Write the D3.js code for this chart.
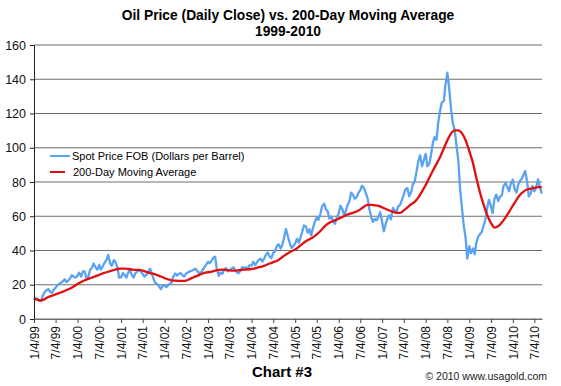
<!DOCTYPE html>
<html>
<head>
<meta charset="utf-8">
<script src="https://cdn.jsdelivr.net/npm/d3@7"></script>
<style>
  body { margin: 0; background: #fff; }
  svg text { font-family: "Liberation Sans", Arial, sans-serif; }
</style>
</head>
<body>
<div id="chart"></div>
<script>
// Oil price (daily close) vs 200-day moving average, 1999-2010
// spot values: two readings per month (4th and 18th)
const spot1999 = [11.4,12.2, 11.6,10.6, 10.4,13.5, 15.8,16.8, 17.4,16.0, 15.2,17.0, 18.2,19.6, 20.4,21.2, 22.0,23.2, 21.6,22.4, 23.8,25.6, 24.6,24.2];
const spot2000 = [25.2,27.0, 24.8,27.8, 27.8,24.2, 24.6,28.6, 29.8,32.4, 30.2,28.8, 31.6,28.8, 30.8,32.8, 34.6,37.4, 32.4,31.0, 34.4,33.2, 30.2,24.2];
const spot2001 = [24.4,26.8, 25.6,24.2, 27.2,28.4, 25.8,24.2, 26.8,27.6, 28.6,27.8, 26.2,24.8, 25.8,27.2, 29.4,26.8, 23.2,21.0, 20.4,19.0, 17.4,19.6];
const spot2002 = [19.4,18.6, 19.8,20.6, 21.4,24.8, 26.6,25.4, 26.4,26.8, 25.6,24.8, 26.6,27.2, 27.8,28.2, 28.8,29.4, 28.2,26.8, 27.2,28.4, 30.4,31.6];
const spot2003 = [33.4,32.6, 34.2,35.8, 36.4,29.2, 25.2,27.2, 26.4,28.8, 29.8,27.8, 28.6,29.2, 30.2,28.7, 27.2,26.8, 28.6,30.4, 29.6,30.2, 29.6,31.4];
const spot2004 = [31.2,33.4, 31.4,33.2, 34.6,35.2, 33.6,35.2, 37.6,38.8, 36.4,35.6, 38.6,39.6, 42.8,43.6, 41.2,43.4, 47.8,52.6, 48.2,44.6, 41.6,42.4];
const spot2005 = [44.2,46.8, 44.6,47.8, 51.0,54.6, 54.0,50.4, 52.4,48.8, 53.6,56.8, 59.4,57.8, 61.6,65.8, 67.4,64.2, 62.8,58.6, 59.8,57.2, 55.6,59.2];
const spot2006 = [61.8,66.2, 64.2,60.6, 62.8,66.4, 68.6,73.8, 72.6,70.2, 71.2,73.6, 75.2,77.8, 76.6,73.8, 70.4,64.2, 59.4,56.8, 58.4,57.6, 59.8,62.4];
const spot2007 = [56.4,51.2, 56.0,58.8, 60.6,58.2, 64.8,63.4, 62.4,65.6, 66.8,69.4, 72.6,75.8, 76.4,71.6, 74.2,78.6, 80.4,85.6, 92.4,95.6, 89.2,92.4];
const spot2008 = [96.4,89.2, 90.6,96.2, 102.8,106.2, 104.6,114.8, 121.6,126.4, 127.2,136.8, 143.8,135.6, 122.4,114.6, 110.2,101.4, 92.4,76.6, 64.2,54.8, 47.2,35.2];
const spot2009 = [42.6,38.4, 41.2,37.8, 44.6,47.8, 49.6,50.8, 54.6,57.8, 65.2,69.6, 66.2,61.8, 70.4,72.6, 68.8,71.4, 72.2,77.6, 79.4,77.2, 74.6,79.0];
const spot2010 = [81.4,76.2, 73.8,78.4, 80.6,81.6, 84.2,86.4, 80.2,71.6, 73.4,77.8, 74.6,76.8, 81.6,77.4, 73.2];

// 200-day moving average: one reading per month (4th)
const ma1999 = [12.0,11.2,10.9,11.6,12.8,13.6,14.4,15.2,16.0,16.9,17.8,19.0];
const ma2000 = [20.4,21.6,22.6,23.4,24.2,25.0,25.8,26.6,27.3,27.9,28.6,29.2];
const ma2001 = [29.4,29.4,29.2,28.9,28.7,28.7,28.3,27.5,26.8,26.4,25.6,24.8];
const ma2002 = [23.9,23.1,22.6,22.4,22.3,22.3,22.4,23.4,24.4,25.2,26.1,26.9];
const ma2003 = [27.3,27.7,28.2,28.7,28.8,28.6,28.4,28.3,28.4,28.6,28.8,29.0];
const ma2004 = [29.2,29.6,30.3,30.7,31.5,32.4,33.2,34.0,35.4,37.0,38.4,39.6];
const ma2005 = [40.6,42.2,43.8,45.4,46.6,47.8,49.4,51.4,53.8,55.6,56.8,57.6];
const ma2006 = [58.6,59.6,60.6,61.4,62.0,62.8,64.0,65.6,66.6,66.7,66.4,66.0];
const ma2007 = [65.2,64.2,63.4,62.6,62.0,62.0,63.4,65.2,67.0,68.4,71.0,74.4];
const ma2008 = [78.2,82.6,86.6,90.6,94.6,99.6,104.4,108.4,110.2,110.2,108.4,104.4];
const ma2009 = [98.0,91.0,82.4,73.8,66.8,60.6,56.2,53.4,54.2,56.4,59.4,62.6];
const ma2010 = [66.2,69.6,72.4,74.4,75.6,76.2,76.6,77.0,77.0];

const years = [1999,2000,2001,2002,2003,2004,2005,2006,2007,2008,2009,2010];
const spotByYear = [spot1999,spot2000,spot2001,spot2002,spot2003,spot2004,spot2005,spot2006,spot2007,spot2008,spot2009,spot2010];
const maByYear = [ma1999,ma2000,ma2001,ma2002,ma2003,ma2004,ma2005,ma2006,ma2007,ma2008,ma2009,ma2010];
const yTicks = [0,20,40,60,80,100,120,140,160];

const spotData = [];
years.forEach((yr, k) => {
  spotByYear[k].forEach((v, i) => {
    spotData.push({ date: new Date(yr, Math.floor(i / 2), i % 2 ? 18 : 4), value: v });
  });
});
const maData = [];
years.forEach((yr, k) => {
  maByYear[k].forEach((v, i) => {
    maData.push({ date: new Date(yr, i, 4), value: v });
  });
});

// tick dates 1/4 and 7/4 of every year
const tickDates = [];
years.forEach(yr => {
  tickDates.push(new Date(yr, 0, 4));
  tickDates.push(new Date(yr, 6, 4));
});

const width = 561, height = 386;
const margin = { top: 45, right: 19, bottom: 67, left: 34 };

const svg = d3.select("#chart").append("svg")
  .attr("width", width)
  .attr("height", height);

const x = d3.scaleTime()
  .domain([new Date(1999, 0, 4), new Date(2010, 8, 6)])
  .range([margin.left, width - margin.right]);

const y = d3.scaleLinear()
  .domain([0, 160])
  .range([height - margin.bottom, margin.top]);

// title
svg.append("text")
  .attr("x", 288).attr("y", 20)
  .attr("text-anchor", "middle")
  .style("font-size", "13.8px").style("font-weight", "bold")
  .text("Oil Price (Daily Close) vs. 200-Day Moving Average");
svg.append("text")
  .attr("x", 288).attr("y", 36)
  .attr("text-anchor", "middle")
  .style("font-size", "13.8px").style("font-weight", "bold")
  .text("1999-2010");

// gridlines
svg.append("g")
  .selectAll("line")
  .data(yTicks)
  .enter()
  .append("line")
  .attr("x1", margin.left)
  .attr("x2", width - margin.right)
  .attr("y1", d => y(d))
  .attr("y2", d => y(d))
  .attr("stroke", "#6e6e6e")
  .attr("stroke-width", 1.2);

// lines
const line = d3.line()
  .x(d => x(d.date))
  .y(d => y(d.value));

svg.append("path")
  .datum(spotData)
  .attr("fill", "none")
  .attr("stroke", "#5aa2f2")
  .attr("stroke-width", 2.3)
  .attr("stroke-linejoin", "round")
  .attr("d", line);

svg.append("path")
  .datum(maData)
  .attr("fill", "none")
  .attr("stroke", "#e01010")
  .attr("stroke-width", 2.3)
  .attr("d", line.curve(d3.curveMonotoneX));

// Y axis
const yAxisG = svg.append("g")
  .attr("transform", `translate(${margin.left},0)`)
  .call(d3.axisLeft(y).tickValues(yTicks).tickSize(4).tickPadding(4));
yAxisG.select(".domain").attr("stroke", "#222");
yAxisG.selectAll(".tick line").attr("stroke", "#222");
yAxisG.selectAll("text")
  .style("font-size", "12.5px")
  .attr("fill", "#111");

// X axis
const xAxisG = svg.append("g")
  .attr("transform", `translate(0,${height - margin.bottom})`)
  .call(d3.axisBottom(x).tickValues(tickDates).tickFormat(d3.timeFormat("%-m/%-d/%y")).tickSize(4).tickSizeOuter(0));
xAxisG.select(".domain").attr("stroke", "#6e6e6e").attr("stroke-width", 1.2);
xAxisG.selectAll(".tick line").attr("stroke", "#444");
xAxisG.selectAll("text")
  .style("font-size", "12px")
  .attr("fill", "#111")
  .attr("text-anchor", "end")
  .attr("transform", "rotate(-90)")
  .attr("x", -7)
  .attr("y", 0)
  .attr("dy", "0.35em");

// legend
const legend = svg.append("g");
legend.append("line")
  .attr("x1", 50).attr("x2", 70).attr("y1", 156).attr("y2", 156)
  .attr("stroke", "#5aa2f2").attr("stroke-width", 2);
legend.append("text")
  .attr("x", 72).attr("y", 156).attr("dy", "0.35em")
  .style("font-size", "11px")
  .text("Spot Price FOB (Dollars per Barrel)");
legend.append("line")
  .attr("x1", 50).attr("x2", 65).attr("y1", 172).attr("y2", 172)
  .attr("stroke", "#e01010").attr("stroke-width", 2);
legend.append("text")
  .attr("x", 73).attr("y", 172).attr("dy", "0.35em")
  .style("font-size", "11px")
  .text("200-Day Moving Average");

// footer
svg.append("text")
  .attr("x", 282).attr("y", 377)
  .attr("text-anchor", "middle")
  .style("font-size", "15px").style("font-weight", "bold")
  .text("Chart #3");
svg.append("text")
  .attr("x", 547).attr("y", 380)
  .attr("text-anchor", "end")
  .style("font-size", "10.5px")
  .attr("fill", "#222")
  .text("© 2010 www.usagold.com");
</script>
</body>
</html>
